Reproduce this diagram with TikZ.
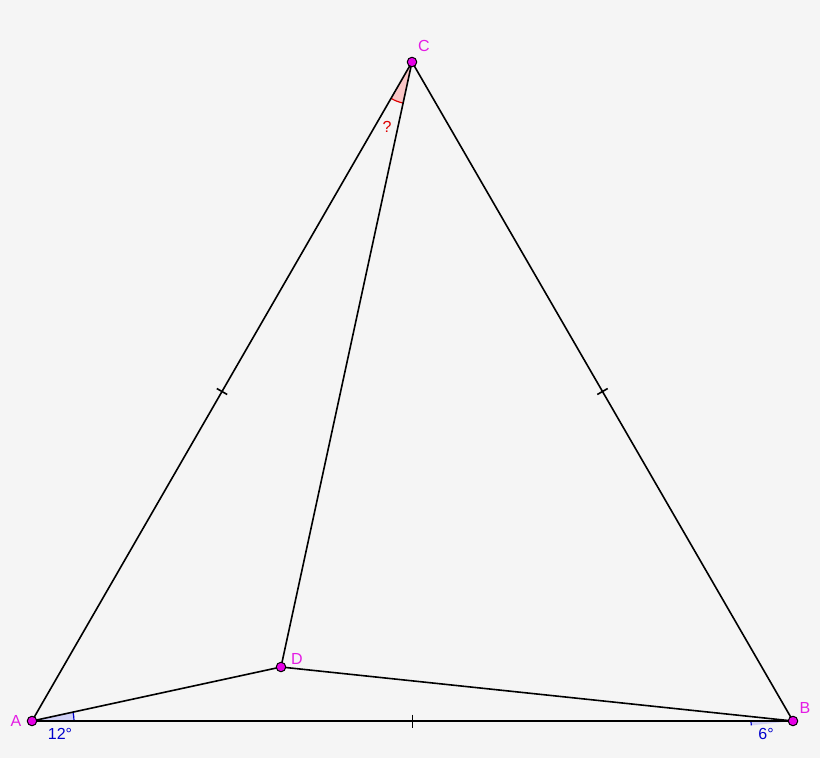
\documentclass[tikz,border=0pt]{standalone}
\usepackage{fontspec}
\setmainfont{Liberation Sans}
\usetikzlibrary{calc}
\definecolor{bg}{HTML}{F5F5F5}
\definecolor{ptmag}{HTML}{E600E6}
\definecolor{lblmag}{HTML}{E41CE4}
\definecolor{angblue}{HTML}{0000CC}
\definecolor{angred}{HTML}{DD0000}
\tikzset{
  seg/.style={draw=black, line width=1.6pt},
  pt/.style={circle, fill=ptmag, draw=black, line width=1pt, inner sep=0pt, minimum size=9.5pt},
  lbl/.style={text=lblmag, font=\fontsize{16}{16}\selectfont, inner sep=0pt},
  anglbl/.style={font=\fontsize{16}{16}\selectfont, inner sep=0pt},
  tick/.style={draw=black, line width=1.6pt},
}
\begin{document}
\begin{tikzpicture}[x=1pt, y=-1pt]
\fill[bg] (0,0) rectangle (820,758);
\useasboundingbox (0,0) rectangle (820,758);
\coordinate (A) at (32,721);
\coordinate (B) at (793,721);
\coordinate (C) at (412,62);
\coordinate (D) at (281,667);
% angle fills
\fill[blue!60!white, opacity=0.25] (A) -- ($(A)!42pt!(B)$) arc[start angle=0, end angle=12.2, radius=42pt] -- cycle;
\draw[angblue, line width=1.2pt] ($(A)!42pt!(B)$) arc[start angle=0, end angle=12.2, radius=42pt];
\fill[blue!60!white, opacity=0.25] (B) -- ($(B)!42pt!(A)$) arc[start angle=180, end angle=186.0, radius=42pt] -- cycle;
\draw[angblue, line width=1.2pt] ($(B)!42pt!(A)$) arc[start angle=180, end angle=186.0, radius=42pt];
% angle at C between CA and CD
\coordinate (c1) at ($(C)!42pt!(A)$);
\coordinate (c2) at ($(C)!42pt!(D)$);
\fill[red!40!white, opacity=0.5] (C) -- (c1) to[bend right=8] (c2) -- cycle;
\draw[angred, line width=1.2pt] (c1) to[bend right=8] (c2);
% segments
\draw[seg] (A) -- (B) -- (C) -- cycle;
\draw[seg] (C) -- (D);
\draw[seg] (A) -- (D) -- (B);
% ticks
\draw[tick] ($(A)!0.5!(C)!6pt!90:(C)$) -- ($(A)!0.5!(C)!6pt!-90:(C)$);
\draw[tick] ($(B)!0.5!(C)!6pt!90:(C)$) -- ($(B)!0.5!(C)!6pt!-90:(C)$);
\draw[tick] ($(A)!0.5!(B)!6.5pt!90:(B)$) -- ($(A)!0.5!(B)!6.5pt!-90:(B)$);
% points
\node[pt] (pA) at (A) {};
\node[pt] (pB) at (B) {};
\node[pt] (pC) at (C) {};
\node[pt] (pD) at (D) {};
% labels
\node[lbl] (lA) at (16,721) {A};
\node[lbl] (lB) at (805,708) {B};
\node[lbl] (lC) at (424,46) {C};
\node[lbl] (lD) at (297,659) {D};
\node[anglbl, text=angblue] (l12) at (60,734) {12°};
\node[anglbl, text=angblue] (l6) at (766,734) {6°};
\node[anglbl, text=angred] (lq) at (387,127) {?};
\end{tikzpicture}
\end{document}
